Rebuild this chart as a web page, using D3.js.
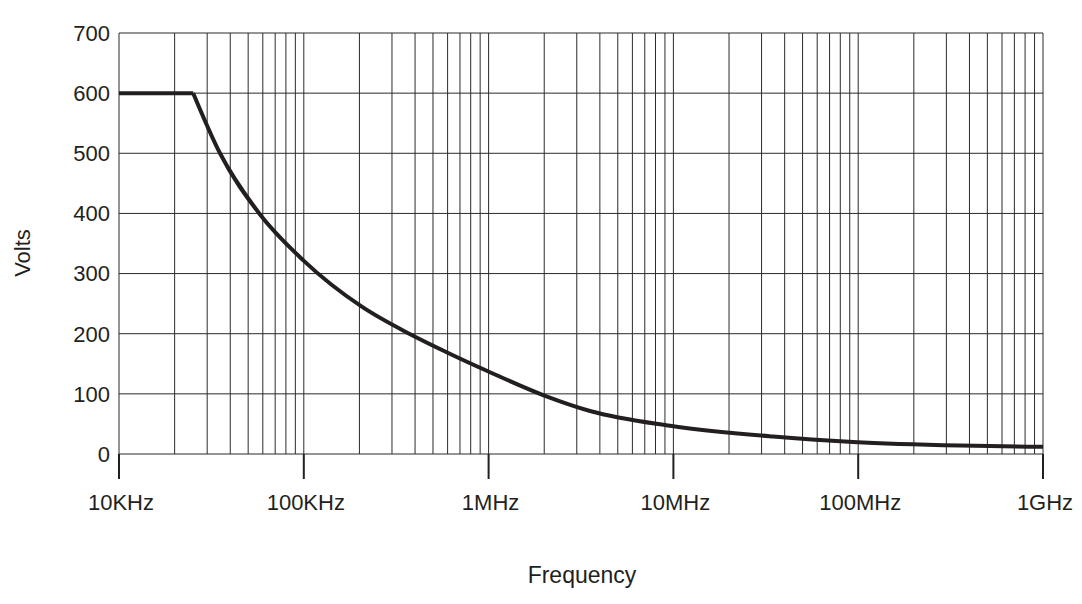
<!DOCTYPE html>
<html>
<head>
<meta charset="utf-8">
<style>
    body { margin: 0; background: #fff; }
    text { font-family: "Liberation Sans", Arial, sans-serif; fill: #231f20; }
</style>
</head>
<body>
<div id="chart"></div>
<script src="https://d3js.org/d3.v7.min.js"></script>
<script>
    // curve (Hz, volts)
    var freqs = [1e4, 25.2e3, 35.2e3, 57.4e3, 99.4e3, 206e3, 372e3, 581e3, 984e3, 2.02e6, 3.54e6, 9.59e6, 34.6e6, 93.7e6, 356e6, 1e9];
    var volts = [600, 600, 500, 400, 322, 245, 200, 170.5, 138, 96.7, 71.5, 47, 29, 20, 14, 12];

    var decades = [1e4, 1e5, 1e6, 1e7, 1e8, 1e9];
    var decadeLabels = ["10KHz", "100KHz", "1MHz", "10MHz", "100MHz", "1GHz"];
    var voltTicks = [0, 100, 200, 300, 400, 500, 600, 700];

    var width = 1082, height = 604;
    var plotLeft = 119, plotRight = 1043, plotTop = 33, plotBottom = 454;

    var svg = d3.select("#chart").append("svg")
        .attr("width", width)
        .attr("height", height);

    var x = d3.scaleLog().domain([1e4, 1e9]).range([plotLeft, plotRight]);
    var y = d3.scaleLinear().domain([0, 700]).range([plotBottom, plotTop]);

    // minor grid: 1..9 in each decade
    var vlines = [];
    decades.slice(0, -1).forEach(function(d) {
        for (var k = 1; k < 10; k++) vlines.push(d * k);
    });
    vlines.push(1e9);

    svg.append("g")
        .selectAll("line")
        .data(vlines)
        .enter().append("line")
        .attr("x1", d => x(d)).attr("x2", d => x(d))
        .attr("y1", plotTop).attr("y2", plotBottom)
        .attr("stroke", "#2b2b2b")
        .attr("stroke-width", 1);

    svg.append("g")
        .selectAll("line")
        .data(voltTicks)
        .enter().append("line")
        .attr("x1", plotLeft).attr("x2", plotRight)
        .attr("y1", d => y(d)).attr("y2", d => y(d))
        .attr("stroke", "#2b2b2b")
        .attr("stroke-width", 1);

    // y labels
    svg.append("g")
        .selectAll("text")
        .data(voltTicks)
        .enter().append("text")
        .attr("x", plotLeft - 9)
        .attr("y", d => y(d))
        .attr("dy", "0.36em")
        .attr("text-anchor", "end")
        .style("font-size", "22px")
        .text(d => d);

    // decade ticks below the axis
    svg.append("g")
        .selectAll("line")
        .data(decades)
        .enter().append("line")
        .attr("x1", d => x(d)).attr("x2", d => x(d))
        .attr("y1", plotBottom).attr("y2", plotBottom + 25)
        .attr("stroke", "#231f20")
        .attr("stroke-width", 2);

    svg.append("g")
        .selectAll("text")
        .data(decades)
        .enter().append("text")
        .attr("x", d => x(d) + 2)
        .attr("y", 510)
        .attr("text-anchor", "middle")
        .style("font-size", "22px")
        .text((d, i) => decadeLabels[i]);

    // axis titles
    svg.append("text")
        .attr("transform", "translate(30,253) rotate(-90)")
        .attr("text-anchor", "middle")
        .style("font-size", "22px")
        .text("Volts");

    svg.append("text")
        .attr("x", 582)
        .attr("y", 583)
        .attr("text-anchor", "middle")
        .style("font-size", "23px")
        .text("Frequency");

    // the curve: flat part, then the roll-off
    var pts = freqs.map((f, i) => [f, volts[i]]);

    var flat = d3.line()
        .x(d => x(d[0])).y(d => y(d[1]));
    var rolloff = d3.line()
        .x(d => x(d[0])).y(d => y(d[1]))
        .curve(d3.curveMonotoneX);

    svg.append("path")
        .attr("d", flat(pts.slice(0, 2)))
        .attr("fill", "none")
        .attr("stroke", "#231f20")
        .attr("stroke-width", 4);

    svg.append("path")
        .attr("d", rolloff(pts.slice(1)))
        .attr("fill", "none")
        .attr("stroke", "#231f20")
        .attr("stroke-width", 4)
        .attr("stroke-linejoin", "round");
</script>
</body>
</html>
